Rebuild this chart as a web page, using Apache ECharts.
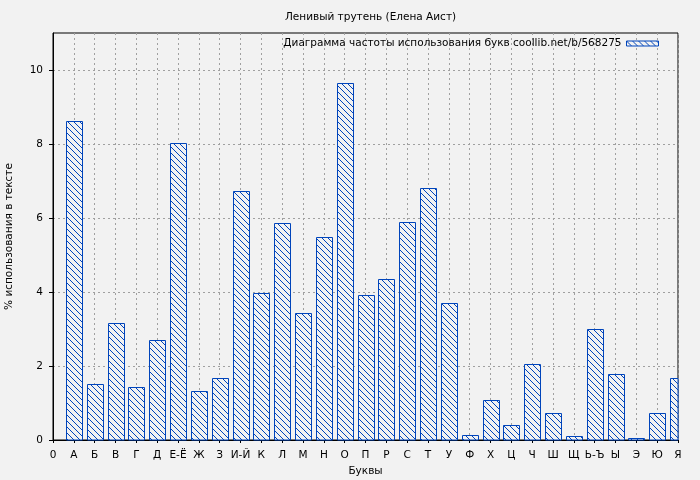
<!DOCTYPE html>
<html>
<head>
<meta charset="utf-8">
<script src="https://cdn.jsdelivr.net/npm/echarts@6/dist/echarts.min.js"></script>
<style>
html,body{margin:0;padding:0;background:#f2f2f2;}
#c{width:700px;height:480px;}
</style>
</head>
<body>
<div id="c"></div>
<script>
const titleText = 'Ленивый трутень (Елена Аист)';
const seriesName = 'Диаграмма частоты использования букв coollib.net/b/568275';
const xName = 'Буквы';
const yName = '% использования в тексте';
const tickLabels = ['0','А','Б','В','Г','Д','Е-Ё','Ж','З','И-Й','К','Л','М','Н','О','П','Р','С','Т','У','Ф','Х','Ц','Ч','Ш','Щ','Ь-Ъ','Ы','Э','Ю','Я'];
const letters = ['А','Б','В','Г','Д','Е-Ё','Ж','З','И-Й','К','Л','М','Н','О','П','Р','С','Т','У','Ф','Х','Ц','Ч','Ш','Щ','Ь-Ъ','Ы','Э','Ю','Я'];
const values = [8.61,1.51,3.15,1.42,2.69,8.03,1.32,1.67,6.72,3.96,5.86,3.42,5.49,9.64,3.91,4.34,5.88,6.80,3.69,0.13,1.07,0.40,2.05,0.73,0.10,2.99,1.78,0.05,0.73,1.67];
const yTicks = [0,2,4,6,8,10];

const BLUE = '#0044bb';
const FONT = 'DejaVu Sans';

// hatch pattern
const pc = document.createElement('canvas');
pc.width = 6; pc.height = 6;
const pctx = pc.getContext('2d');
pctx.fillStyle = '#f2f2f2';
pctx.fillRect(0,0,6,6);
pctx.fillStyle = BLUE;
for (let i = 0; i < 6; i++) pctx.fillRect(i, i, 1, 1);
const hatch = {image: pc, repeat: 'repeat'};

const data = letters.map((l, i) => [tickLabels.indexOf(l), values[i]]);

function renderBar(params, api) {
  const xv = api.value(0), yv = api.value(1);
  const base = api.coord([xv, 0]);
  const top = api.coord([xv, yv]);
  const w = 16;
  const x0 = Math.round(base[0] - w / 2) + 0.5;
  const y0 = Math.round(top[1]) + 0.5;
  const rect = {x: x0, y: y0, width: w, height: base[1] - y0};
  const cs = params.coordSys;
  const clipped = echarts.graphic.clipRectByRect(rect, {x: cs.x, y: cs.y, width: cs.width, height: cs.height});
  if (!clipped) return null;
  return {
    type: 'rect',
    shape: clipped,
    style: {fill: hatch, stroke: BLUE, lineWidth: 1}
  };
}

const chart = echarts.init(document.getElementById('c'), null, {renderer: 'canvas'});
chart.setOption({
  backgroundColor: '#f2f2f2',
  animation: false,
  title: {
    text: titleText,
    left: 365.5, top: 7, textAlign: 'center',
    textStyle: {fontFamily: FONT, fontSize: 10.5, fontWeight: 'normal', color: '#000'}
  },
  legend: {
    right: 36, top: 33,
    align: 'right',
    itemWidth: 32, itemHeight: 5,
    textStyle: {fontFamily: FONT, fontSize: 10.5, color: '#000'},
    data: [{name: seriesName, icon: 'rect', itemStyle: {color: hatch, borderColor: BLUE, borderWidth: 1}}]
  },
  grid: {
    left: 53, right: 22, top: 33, bottom: 40,
    containLabel: false, outerBoundsMode: 'none',
    show: true, borderColor: '#000', borderWidth: 1, backgroundColor: 'transparent'
  },
  xAxis: {
    type: 'value', min: 0, max: 30, interval: 1,
    name: xName, nameLocation: 'middle', nameGap: 26,
    nameTextStyle: {fontFamily: FONT, fontSize: 10.5, color: '#000'},
    axisLine: {show: true, lineStyle: {color: '#000', width: 1}},
    axisTick: {show: true, length: 3, lineStyle: {color: '#000'}},
    axisLabel: {
      fontFamily: FONT, fontSize: 10.5, color: '#000', margin: 10,
      formatter: v => tickLabels[Math.round(v)] || ''
    },
    splitLine: {show: true, lineStyle: {color: '#a0a0a0', type: [2, 3], width: 1}}
  },
  yAxis: {
    type: 'value', min: 0, max: 11, interval: 2,
    name: yName, nameLocation: 'middle', nameGap: 38,
    nameTextStyle: {fontFamily: FONT, fontSize: 10.5, color: '#000'},
    axisLine: {show: true, lineStyle: {color: '#000', width: 1}},
    axisTick: {show: true, length: 4, lineStyle: {color: '#000'}, customValues: yTicks},
    axisLabel: {fontFamily: FONT, fontSize: 10.5, color: '#000', margin: 10, customValues: yTicks},
    splitLine: {show: true, lineStyle: {color: '#a0a0a0', type: [2, 3], width: 1}}
  },
  series: [{
    name: seriesName,
    type: 'custom',
    renderItem: renderBar,
    encode: {x: 0, y: 1},
    itemStyle: {color: hatch, borderColor: BLUE, borderWidth: 1},
    data: data
  }]
});
</script>
</body>
</html>
